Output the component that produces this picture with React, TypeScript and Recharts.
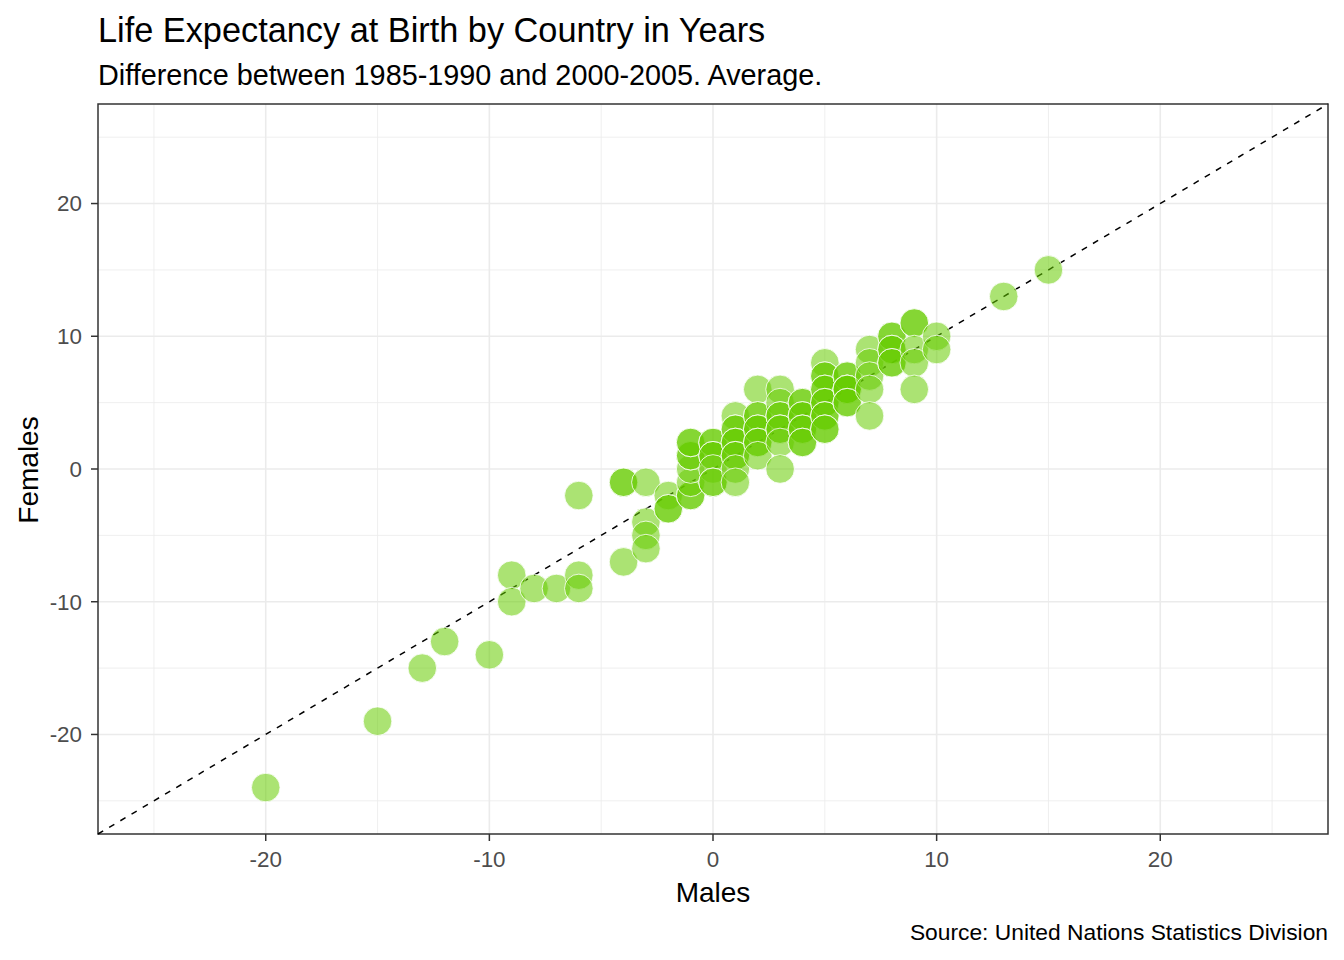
import { ScatterChart, Scatter, XAxis, YAxis, CartesianGrid, ReferenceLine, ReferenceArea } from 'recharts';

// change in life expectancy (years), 1985-1990 -> 2000-2005
const males = [
  -20, -15, -13, -12, -10, -9, -9, -8, -7, -6, -6, -6, -4, -4, -4, -3, -3, -3, -3,
  -2, -2, -2, -1, -1, -1, -1, -1, -1, -1, -1, 0, 0, 0, 0, 0, 0, 0,
  1, 1, 1, 1, 1, 1, 1, 1, 1, 2, 2, 2, 2, 2, 2, 2, 2, 3, 3, 3, 3, 3, 3, 3, 3,
  4, 4, 4, 4, 4, 4, 4, 4, 5, 5, 5, 5, 5, 5, 5, 5, 5, 5, 5, 6, 6, 6, 6, 6, 6, 6,
  7, 7, 7, 7, 7, 8, 8, 8, 8, 8, 8, 9, 9, 9, 9, 9, 10, 10, 13, 15,
];
const females = [
  -24, -19, -15, -13, -14, -8, -10, -9, -9, -8, -9, -2, -1, -1, -7, -1, -4, -5, -6,
  -2, -3, -3, -2, -2, -1, 0, 1, 1, 2, 2, 2, 2, 1, 1, 0, -1, -1,
  4, 3, 3, 2, 2, 1, 1, 0, -1, 6, 4, 4, 3, 3, 2, 2, 1, 6, 5, 4, 4, 3, 3, 2, 0,
  5, 5, 4, 4, 3, 3, 2, 2, 8, 7, 7, 6, 6, 5, 5, 4, 4, 3, 3, 7, 7, 6, 6, 6, 5, 5,
  9, 8, 7, 6, 4, 10, 10, 9, 9, 8, 8, 11, 11, 9, 8, 6, 10, 9, 13, 15,
];

const majorTicks = [-20, -10, 0, 10, 20];
const minorTicks = [-25, -15, -5, 5, 15, 25];
const limits: [number, number] = [-27.5, 27.5];

const points = males.map((m, i) => ({ males: m, females: females[i] }));

const font = '"Liberation Sans", Arial, sans-serif';
const tickStyle = { fill: '#4d4d4d', fontSize: 22.4, fontFamily: font };

const Dot = (props: any) => (
  <circle
    cx={props.cx}
    cy={props.cy}
    r={14.3}
    fill="#66CC00"
    fillOpacity={0.55}
    stroke="#ffffff"
    strokeWidth={0.8}
  />
);

export default function App() {
  return (
    <div style={{ position: 'absolute', left: 0, top: 0, width: 1344, height: 960, background: '#fff' }}>
      <ScatterChart width={1344} height={960} margin={{ top: 104, right: 16, bottom: 86, left: 38 }}>
        <CartesianGrid
          stroke="#ebebeb"
          strokeWidth={0.8}
          horizontalValues={minorTicks}
          verticalValues={minorTicks}
        />
        <CartesianGrid
          stroke="#ebebeb"
          strokeWidth={1.6}
          horizontalValues={majorTicks}
          verticalValues={majorTicks}
        />
        <XAxis
          type="number"
          dataKey="males"
          domain={limits}
          ticks={majorTicks}
          allowDataOverflow
          height={40}
          axisLine={false}
          tickSize={7}
          tickMargin={10}
          tickLine={{ stroke: '#333', strokeWidth: 1.5 }}
          tick={tickStyle}
        />
        <YAxis
          type="number"
          dataKey="females"
          domain={limits}
          ticks={majorTicks}
          allowDataOverflow
          width={60}
          axisLine={false}
          tickSize={7}
          tickMargin={9}
          tickLine={{ stroke: '#333', strokeWidth: 1.5 }}
          tick={tickStyle}
        />
        <ReferenceLine
          segment={[{ x: -27.5, y: -27.5 }, { x: 27.5, y: 27.5 }]}
          stroke="#000"
          strokeWidth={1.5}
          strokeDasharray="6 7"
        />
        <Scatter data={points} shape={Dot} isAnimationActive={false} />
        <ReferenceArea
          x1={-27.5}
          x2={27.5}
          y1={-27.5}
          y2={27.5}
          fill="none"
          fillOpacity={0}
          stroke="#333"
          strokeWidth={1.5}
        />
      </ScatterChart>
      <svg
        width={1344}
        height={960}
        style={{ position: 'absolute', left: 0, top: 0, pointerEvents: 'none' }}
        fontFamily={font}
      >
        <text x={98} y={42} fontSize={34.3} fill="#000">
          Life Expectancy at Birth by Country in Years
        </text>
        <text x={98} y={85} fontSize={28.8} fill="#000">
          Difference between 1985-1990 and 2000-2005. Average.
        </text>
        <text x={713} y={902} fontSize={28} fill="#000" textAnchor="middle">
          Males
        </text>
        <text
          x={38}
          y={470}
          fontSize={28}
          fill="#000"
          textAnchor="middle"
          transform="rotate(-90 38 470)"
        >
          Females
        </text>
        <text x={1328} y={940} fontSize={22.8} fill="#000" textAnchor="end">
          Source: United Nations Statistics Division
        </text>
      </svg>
    </div>
  );
}
